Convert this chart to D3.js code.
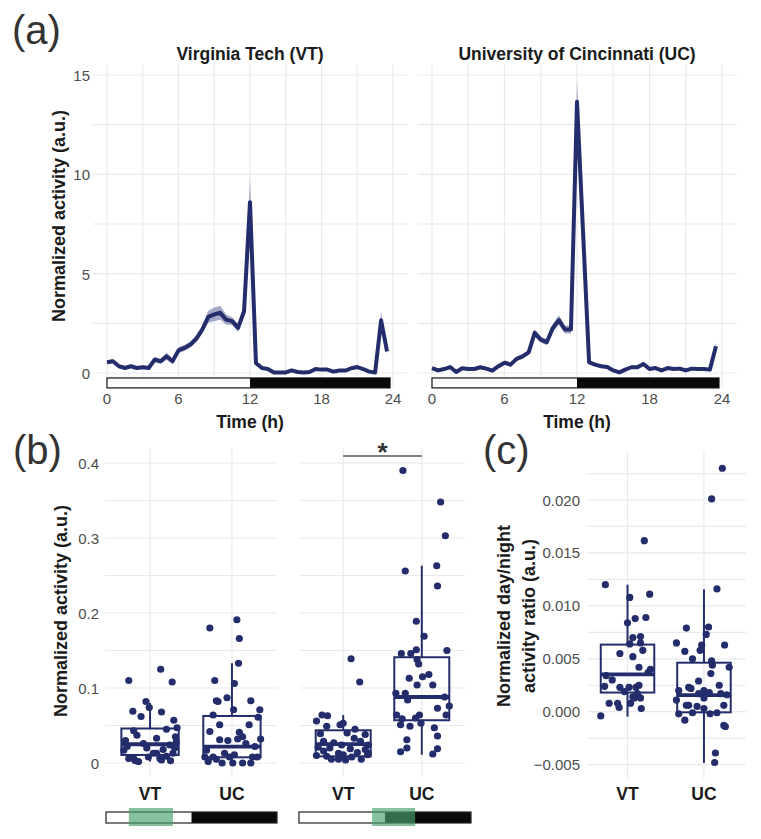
<!DOCTYPE html>
<html><head><meta charset="utf-8">
<script src="https://cdn.jsdelivr.net/npm/d3@7"></script>
<style>body{margin:0;background:#fff;} svg{display:block;font-family:"Liberation Sans",Arial,Helvetica,sans-serif;}</style>
</head><body>
<script>
// ---------- Panel (a): time courses (30-min bins) ----------
const hours = d3.range(0, 24, 0.5);
const vtMean = [0.54,0.59,0.34,0.25,0.34,0.25,0.29,0.25,0.67,0.59,0.84,0.59,1.14,1.26,1.43,1.73,2.19,2.83,2.95,3.03,2.69,2.61,2.27,3.11,8.6,0.5,0.25,0.2,0.03,0.03,0.03,0.13,0.05,0.03,0.05,0.2,0.17,0.17,0.07,0.13,0.12,0.24,0.3,0.2,0.07,0.03,2.65,1.09];
const vtSe   = [0.1,0.1,0.08,0.08,0.08,0.08,0.08,0.08,0.15,0.12,0.18,0.12,0.15,0.15,0.15,0.18,0.2,0.3,0.35,0.35,0.25,0.2,0.2,0.25,1.2,0.15,0.08,0.06,0.05,0.05,0.05,0.05,0.05,0.05,0.05,0.06,0.06,0.06,0.05,0.05,0.05,0.06,0.07,0.06,0.05,0.05,0.45,0.15];
const ucMean = [0.25,0.13,0.2,0.3,0.05,0.24,0.2,0.2,0.29,0.22,0.12,0.34,0.52,0.42,0.71,0.84,1.04,2.02,1.68,1.55,2.27,2.66,2.19,2.19,13.65,7.1,0.54,0.42,0.34,0.3,0.13,0.03,0.17,0.29,0.29,0.45,0.2,0.25,0.13,0.25,0.2,0.22,0.13,0.22,0.2,0.2,0.17,1.35];
const ucSe   = [0.08,0.08,0.08,0.08,0.08,0.08,0.08,0.08,0.08,0.08,0.08,0.08,0.1,0.1,0.1,0.12,0.12,0.2,0.15,0.15,0.2,0.25,0.2,0.2,1.1,0.5,0.1,0.08,0.08,0.08,0.08,0.08,0.08,0.08,0.08,0.08,0.08,0.08,0.08,0.08,0.08,0.08,0.08,0.08,0.08,0.08,0.08,0.2];
const timeTicks = [0, 6, 12, 18, 24];
const actTicks = [0, 5, 10, 15];
const lightDark = [0, 12, 23.75];   // light on, lights off, end
const facetTitles = ["Virginia Tech (VT)", "University of Cincinnati (UC)"];

// ---------- Panel (b): day/night window activity ----------
const groups = ["VT", "UC"];
const bTicks = [0, 0.1, 0.2, 0.3, 0.4];
const bTickLabels = ["0", "0.1", "0.2", "0.3", "0.4"];
// box stats: [lower whisker, Q1, median, Q3, upper whisker]
const dayBoxVT = [0.002, 0.0107, 0.025, 0.046, 0.080];
const dayBoxUC = [0.0, 0.0076, 0.0218, 0.0627, 0.133];
const nightBoxVT = [0.003, 0.0089, 0.0253, 0.0436, 0.064];
const nightBoxUC = [0.011, 0.057, 0.088, 0.141, 0.263];
const dayVT = [0.110,0.125,0.108,0.082,0.074,0.069,0.068,0.062,0.057,0.047,0.045,0.043,0.037,0.033,0.035,0.028,0.030,0.024,0.020,0.018,0.017,0.013,0.013,0.006,0.008,0.006,0.003,0.002,0.004,0.003,0.009,0.022,0.020,0.013,0.026,0.006];
const dayVTJit = [-0.26,0.13,0.27,-0.05,-0.01,-0.21,0.14,-0.11,0.29,0.33,0.2,-0.2,-0.16,0.08,0.31,0.32,-0.3,0.24,-0.04,0.16,-0.32,0.28,0.04,-0.2,-0.02,0.12,-0.18,-0.14,0.14,0.25,0.2,-0.28,0.3,0.08,-0.08,-0.26];
const dayUC = [0.180,0.191,0.166,0.133,0.110,0.106,0.083,0.082,0.087,0.083,0.071,0.071,0.064,0.061,0.051,0.051,0.042,0.041,0.035,0.032,0.031,0.030,0.032,0.026,0.017,0.022,0.013,0.011,0.008,0.008,0.008,0.008,0.008,0.0,0.0,0.0,0.0,0.002,0.005];
const dayUCJit = [-0.27,0.06,0.09,0.08,-0.21,0.03,-0.19,-0.17,-0.06,0.23,0.02,0.34,-0.23,0.32,-0.15,0.21,-0.27,0.09,0.13,0.35,-0.15,-0.05,0.07,0.17,-0.31,0.28,-0.09,0.03,-0.33,-0.23,-0.03,0.25,0.31,-0.12,0.01,0.13,0.23,-0.29,-0.19];
const nightVT = [0.139,0.108,0.064,0.063,0.056,0.049,0.051,0.053,0.045,0.039,0.040,0.038,0.033,0.029,0.027,0.024,0.029,0.024,0.021,0.020,0.019,0.018,0.016,0.013,0.014,0.013,0.010,0.009,0.011,0.005,0.005,0.004,0.008,0.005,0.011];
const nightVTJit = [0.10,0.21,-0.27,-0.2,-0.34,-0.21,-0.04,0.0,0.15,-0.29,0.05,0.28,0.14,-0.25,-0.12,-0.02,0.22,0.32,-0.32,-0.17,0.09,0.28,-0.25,-0.06,0.18,0.32,-0.34,-0.21,0.0,-0.15,-0.06,0.03,0.11,0.23,0.31];
const nightUC = [0.390,0.348,0.303,0.256,0.263,0.236,0.189,0.169,0.146,0.146,0.151,0.150,0.138,0.132,0.113,0.115,0.118,0.104,0.104,0.093,0.093,0.084,0.088,0.076,0.073,0.064,0.064,0.059,0.060,0.064,0.051,0.049,0.053,0.047,0.036,0.031,0.020,0.015,0.019,0.012];
const nightUCJit = [-0.24,0.24,0.30,-0.21,0.19,0.2,-0.07,0.03,-0.26,-0.14,-0.07,0.32,-0.06,-0.04,-0.16,0.01,0.09,-0.06,0.14,-0.33,-0.21,-0.18,0.29,0.35,0.2,0.31,-0.32,-0.25,-0.08,-0.03,-0.27,-0.15,-0.01,0.16,0.2,-0.19,-0.19,-0.27,0.2,0.14];
const dayWindow = [3.2, 9.4];
const nightWindow = [10.2, 16.2];

// ---------- Panel (c): day/night ratio ----------
const cTicks = [-0.005, 0, 0.005, 0.010, 0.015, 0.020];
const ratioBoxVT = [-0.00047, 0.00181, 0.00353, 0.00634, 0.0120];
const ratioBoxUC = [-0.00484, -0.00006, 0.00156, 0.00463, 0.01156];
const ratioVT = [0.01616,0.0120,0.0111,0.0108,0.0088,0.0089,0.0084,0.0070,0.0071,0.0065,0.0064,0.0058,0.0055,0.0052,0.0042,0.0040,0.0037,0.0034,0.0030,0.0024,0.0023,0.0023,0.0023,0.0025,0.0019,0.0017,0.0014,0.0013,0.0008,0.0008,0.0008,0.0004,0.0003,-0.0004,0.0013];
const ratioVTJit = [0.22,-0.29,0.29,0.03,0.10,0.24,0.0,0.07,0.17,0.17,0.03,0.2,-0.1,0.07,0.15,0.3,0.27,-0.28,-0.2,-0.3,-0.1,0.02,0.11,0.15,-0.04,0.13,0.07,0.17,-0.24,-0.13,0.04,-0.11,0.18,-0.35,0.09];
const ratioUC = [0.0230,0.0201,0.0116,0.0079,0.0080,0.0073,0.0065,0.0063,0.0063,0.0057,0.0058,0.0050,0.0048,0.0044,0.0042,0.0036,0.0029,0.0025,0.0020,0.0023,0.0022,0.0020,0.0017,0.0018,0.0017,0.0016,0.0011,0.0013,0.0006,0.0005,0.0006,-0.0002,-0.0001,0.0003,-0.0002,-0.0001,-0.0008,-0.0013,-0.0014,-0.0039,-0.0048,0.0006];
const ratioUCJit = [0.24,0.1,0.17,-0.23,0.06,0.03,-0.36,0.27,-0.03,-0.25,-0.05,-0.15,0.1,0.11,0.33,0.09,-0.07,0.2,-0.33,-0.2,-0.17,0.0,-0.07,0.07,0.22,0.3,-0.36,0.0,-0.2,-0.09,0.26,-0.33,-0.15,0.0,0.08,0.17,-0.25,0.26,0.28,0.15,0.14,-0.23];

// ---------- drawing ----------
const NAVY = "#232d6b", GRID = "#e9eaee", TICK = "#4d4d4d", TITLE = "#1a1a1a";
const svg = d3.select("body").append("svg").attr("width", 761).attr("height", 839);
svg.append("rect").attr("width", 761).attr("height", 839).attr("fill", "#fff");

function panelLabel(txt, x, y) {
  svg.append("text").attr("x", x).attr("y", y).attr("font-size", 40).attr("fill", "#333").text(txt);
}
function yTitle(lines, cx, cy, gap) {
  lines.forEach((l, i) => {
    svg.append("text").attr("transform", `translate(${cx + 6.5 + i * gap},${cy}) rotate(-90)`)
      .attr("text-anchor", "middle").attr("font-size", 18).attr("font-weight", "bold")
      .attr("fill", TITLE).text(l);
  });
}

// Panel (a)
const yA = d3.scaleLinear().domain([0, 15]).range([373, 75]);
const aRanges = [[107, 393], [432, 722]];
const aData = [[vtMean, vtSe], [ucMean, ucSe]];
aRanges.forEach((r, fi) => {
  const x = d3.scaleLinear().domain([0, 24]).range(r);
  const g = svg.append("g");
  const xe = [x(-1.2), x(25.2)], ye = [yA(15.5), yA(-0.75)];
  g.selectAll(".hg").data(d3.range(0, 15.01, 2.5)).join("line")
    .attr("x1", xe[0]).attr("x2", xe[1]).attr("y1", d => yA(d)).attr("y2", d => yA(d))
    .attr("stroke", GRID).attr("stroke-width", 1.2);
  g.selectAll(".vg").data(d3.range(0, 24.01, 3)).join("line")
    .attr("x1", d => x(d)).attr("x2", d => x(d)).attr("y1", ye[0]).attr("y2", ye[1])
    .attr("stroke", GRID).attr("stroke-width", 1.2);
  const [m, s] = aData[fi];
  const pts = hours.map((h, i) => ({ t: h, m: m[i], s: s[i] }));
  g.append("path").datum(pts).attr("fill", "#3b4283").attr("fill-opacity", 0.45)
    .attr("d", d3.area().x(d => x(d.t)).y0(d => yA(d.m - d.s)).y1(d => yA(d.m + d.s)));
  g.append("path").datum(pts).attr("fill", "none").attr("stroke", NAVY).attr("stroke-width", 4)
    .attr("stroke-linejoin", "round").attr("d", d3.line().x(d => x(d.t)).y(d => yA(d.m)));
  // light/dark bar
  const by0 = yA(-0.25), by1 = yA(-0.75);
  g.append("rect").attr("x", x(lightDark[0])).attr("y", by0).attr("width", x(lightDark[1]) - x(lightDark[0]))
    .attr("height", by1 - by0).attr("fill", "#fff");
  g.append("rect").attr("x", x(lightDark[1])).attr("y", by0).attr("width", x(lightDark[2]) - x(lightDark[1]))
    .attr("height", by1 - by0).attr("fill", "#0a0a0a");
  g.append("rect").attr("x", x(lightDark[0])).attr("y", by0).attr("width", x(lightDark[2]) - x(lightDark[0]))
    .attr("height", by1 - by0).attr("fill", "none").attr("stroke", "#111").attr("stroke-width", 1.2);
  // x tick labels
  g.selectAll(".xt").data(timeTicks).join("text").attr("x", d => x(d)).attr("y", 404)
    .attr("text-anchor", "middle").attr("font-size", 15).attr("fill", TICK).text(d => d);
  g.append("text").attr("x", (xe[0] + xe[1]) / 2).attr("y", 428).attr("text-anchor", "middle")
    .attr("font-size", 17.5).attr("font-weight", "bold").attr("fill", TITLE).text("Time (h)");
  g.append("text").attr("x", (xe[0] + xe[1]) / 2).attr("y", 60).attr("text-anchor", "middle")
    .attr("font-size", 17.5).attr("font-weight", "bold").attr("fill", TITLE).text(facetTitles[fi]);
  if (fi === 0) {
    g.selectAll(".yt").data(actTicks).join("text").attr("x", 90).attr("y", d => yA(d) + 6)
      .attr("text-anchor", "end").attr("font-size", 15).attr("fill", TICK).text(d => d);
  }
});
panelLabel("(a)", 12, 44);
yTitle(["Normalized activity (a.u.)"], 58, 216, 0);

// box + points helper
function boxGroup(g, x, y, idx, stats, vals, jit, w) {
  const cx = x(idx), hw = (x(idx + w / 2) - x(idx - w / 2)) / 2;
  g.append("line").attr("x1", cx).attr("x2", cx).attr("y1", y(stats[3])).attr("y2", y(stats[4]))
    .attr("stroke", NAVY).attr("stroke-width", 2);
  g.append("line").attr("x1", cx).attr("x2", cx).attr("y1", y(stats[1])).attr("y2", y(stats[0]))
    .attr("stroke", NAVY).attr("stroke-width", 2);
  g.append("rect").attr("x", cx - hw).attr("y", y(stats[3])).attr("width", 2 * hw)
    .attr("height", y(stats[1]) - y(stats[3])).attr("fill", "none").attr("stroke", NAVY).attr("stroke-width", 2);
  g.append("line").attr("x1", cx - hw).attr("x2", cx + hw).attr("y1", y(stats[2])).attr("y2", y(stats[2]))
    .attr("stroke", NAVY).attr("stroke-width", 3.8);
  g.selectAll(null).data(vals).join("circle").attr("cx", (d, i) => x(idx + jit[i])).attr("cy", d => y(d))
    .attr("r", 3.6).attr("fill", NAVY);
}
function catPanel(g, x, y, xe, ye, hTicks) {
  g.selectAll(null).data(hTicks).join("line").attr("x1", xe[0]).attr("x2", xe[1])
    .attr("y1", d => y(d)).attr("y2", d => y(d)).attr("stroke", GRID).attr("stroke-width", 1.2);
  g.selectAll(null).data([0, 1]).join("line").attr("x1", d => x(d)).attr("x2", d => x(d))
    .attr("y1", ye[0]).attr("y2", ye[1]).attr("stroke", GRID).attr("stroke-width", 1.2);
  g.selectAll(null).data(groups).join("text").attr("x", (d, i) => x(i)).attr("y", 800)
    .attr("text-anchor", "middle").attr("font-size", 17.5).attr("font-weight", "bold").attr("fill", TITLE).text(d => d);
}
function ldBar(range, win) {
  const s = d3.scaleLinear().domain([0, 24]).range(range);
  const g = svg.append("g");
  g.append("rect").attr("x", s(0)).attr("y", 812).attr("width", s(12) - s(0)).attr("height", 11).attr("fill", "#fff");
  g.append("rect").attr("x", s(12)).attr("y", 812).attr("width", s(24) - s(12)).attr("height", 11).attr("fill", "#0a0a0a");
  g.append("rect").attr("x", s(0)).attr("y", 812).attr("width", s(24) - s(0)).attr("height", 11)
    .attr("fill", "none").attr("stroke", "#222").attr("stroke-width", 1.2);
  g.append("rect").attr("x", s(win[0])).attr("y", 808).attr("width", s(win[1]) - s(win[0])).attr("height", 18)
    .attr("fill", "#47a36a").attr("fill-opacity", 0.66);
}

// Panel (b)
const yB = d3.scaleLinear().domain([0, 0.4]).range([763, 463]);
const bHTicks = d3.range(0, 0.4001, 0.05);
const bFacets = [
  { r: [105, 277], boxes: [[dayBoxVT, dayVT, dayVTJit], [dayBoxUC, dayUC, dayUCJit]] },
  { r: [300, 465], boxes: [[nightBoxVT, nightVT, nightVTJit], [nightBoxUC, nightUC, nightUCJit]] }
];
bFacets.forEach(f => {
  const x = d3.scaleLinear().domain([-0.55, 1.55]).range(f.r);
  const g = svg.append("g");
  catPanel(g, x, yB, f.r, [yB(0.42), yB(-0.0187)], bHTicks);
  f.boxes.forEach((b, i) => boxGroup(g, x, yB, i, b[0], b[1], b[2], 0.7));
  f.x = x;
});
svg.selectAll(".byt").data(bTicks).join("text").attr("x", 99).attr("y", d => yB(d) + 5.5)
  .attr("text-anchor", "end").attr("font-size", 15).attr("fill", TICK).text((d, i) => bTickLabels[i]);
// significance
{
  const x = bFacets[1].x;
  svg.append("line").attr("x1", x(0)).attr("x2", x(1)).attr("y1", 456).attr("y2", 456)
    .attr("stroke", "#555").attr("stroke-width", 1.6);
  svg.append("text").attr("x", (x(0) + x(1)) / 2).attr("y", 461).attr("text-anchor", "middle")
    .attr("font-size", 26).attr("font-weight", "bold").attr("fill", "#333").text("*");
}
ldBar([106, 277], dayWindow);
ldBar([299, 471], nightWindow);
panelLabel("(b)", 13, 464);
yTitle(["Normalized activity (a.u.)"], 60, 611, 0);

// Panel (c)
const yC = d3.scaleLinear().domain([0, 0.02]).range([711.7, 500]);
const xC = d3.scaleLinear().domain([-0.53, 1.55]).range([587, 746]);
{
  const g = svg.append("g");
  catPanel(g, xC, yC, [587, 746], [yC(0.0246), yC(-0.0063)], d3.range(-0.005, 0.02251, 0.0025));
  boxGroup(g, xC, yC, 0, ratioBoxVT, ratioVT, ratioVTJit, 0.7);
  boxGroup(g, xC, yC, 1, ratioBoxUC, ratioUC, ratioUCJit, 0.7);
  const fmt = d3.format(".3f");
  g.selectAll(null).data(cTicks).join("text").attr("x", 580).attr("y", d => yC(d) + 5.5)
    .attr("text-anchor", "end").attr("font-size", 15).attr("fill", TICK).text(d => fmt(d));
}
panelLabel("(c)", 483, 464);
yTitle(["Normalized day/night", "activity ratio (a.u.)"], 503, 616, 25);
</script>
</body></html>
